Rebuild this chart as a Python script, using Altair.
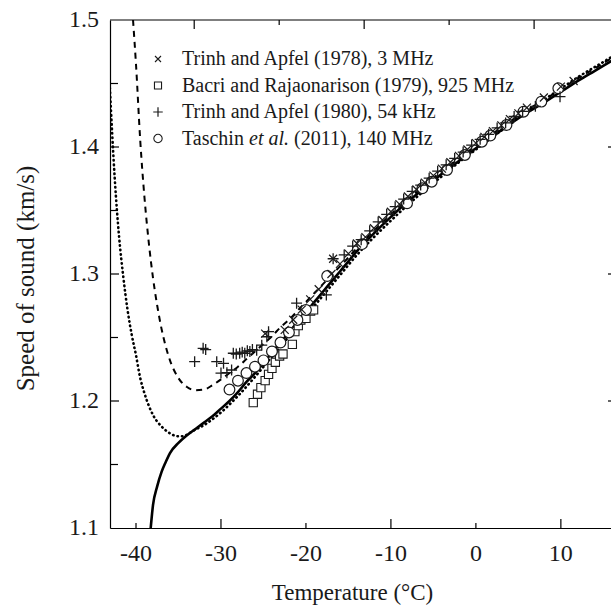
import altair as alt
import pandas as pd

# ---------------- data ----------------
solid_T = [-38.27, -38.0, -37.5, -37.0, -36.5, -36.0, -35.0, -34.0, -33.0, -32.0, -31.0, -30.0,
           -29.0, -28.0, -27.0, -26.0, -25.0, -24.0, -23.0, -22.0, -21.0, -20.0, -19.0, -18.0,
           -17.0, -16.0, -15.0, -14.0, -12.0, -10.0, -8.0, -6.0, -4.0, -2.0, 0.0, 2.0, 4.0,
           6.0, 8.0, 10.0, 12.0, 14.0, 16.0]
solid_v = [1.100, 1.118, 1.133, 1.144, 1.152, 1.159, 1.167, 1.173, 1.178, 1.183, 1.188, 1.194,
           1.200, 1.207, 1.215, 1.222, 1.230, 1.238, 1.246, 1.254, 1.262, 1.270, 1.278, 1.286,
           1.294, 1.302, 1.310, 1.318, 1.332, 1.345, 1.357, 1.368, 1.379, 1.389, 1.399, 1.4085,
           1.418, 1.427, 1.435, 1.4435, 1.452, 1.460, 1.468]

dot_T = [-43.1, -42.8, -42.5, -42.0, -41.5, -41.0, -40.5, -40.0, -39.5, -39.0, -38.0, -37.0,
         -36.0, -35.0, -34.5, -34.0, -33.3, -32.0, -30.0, -28.0, -26.0, -24.0, -22.0, -20.0,
         -18.0, -16.0, -14.0, -12.0, -10.0, -8.0, -6.0, -4.0, -2.0, 0.0, 2.0, 4.0, 6.0, 8.0,
         10.0, 12.0, 14.0, 16.0]
dot_v = [1.450, 1.410, 1.375, 1.330, 1.298, 1.272, 1.252, 1.236, 1.218, 1.206, 1.189, 1.180,
         1.1745, 1.1722, 1.1722, 1.1735, 1.1765, 1.181, 1.191, 1.204, 1.219, 1.235, 1.251,
         1.267, 1.283, 1.299, 1.315, 1.329, 1.342, 1.3545, 1.366, 1.377, 1.388, 1.398, 1.408,
         1.418, 1.428, 1.437, 1.446, 1.455, 1.463, 1.471]

dash_T = [-40.35, -40.0, -39.5, -39.0, -38.5, -38.0, -37.5, -37.0, -36.5, -36.0, -35.0, -34.0,
          -33.0, -32.0, -31.0, -30.0, -29.0, -28.0, -27.0, -26.0, -25.0, -24.0, -23.0, -22.0,
          -21.0, -20.0, -19.0, -18.0, -17.0, -16.0, -15.0, -14.0, -12.0, -10.0, -8.0, -6.0,
          -4.0, -2.0, 0.0, 2.0, 4.0, 6.0, 8.0, 10.0, 12.0, 14.0, 16.0]
dash_v = [1.500, 1.465, 1.405, 1.360, 1.325, 1.297, 1.275, 1.257, 1.243, 1.232, 1.218, 1.211,
          1.2085, 1.209, 1.2125, 1.217, 1.222, 1.227, 1.233, 1.239, 1.245, 1.251, 1.258, 1.264,
          1.271, 1.278, 1.285, 1.292, 1.299, 1.306, 1.313, 1.3205, 1.334, 1.347, 1.359, 1.370,
          1.381, 1.391, 1.401, 1.4105, 1.420, 1.429, 1.437, 1.4455, 1.454, 1.462, 1.470]

# Trinh and Apfel (1978), 3 MHz  (x)
x78_T = [-24.8, -22.5, -21.5, -20.5, -19.5, -18.5, -17.0, -16.8, -16.0, -15.0, -14.0, -13.0,
         -12.0, -11.0, -10.0, -9.0, -8.0, -7.0, -6.0, -5.0, -4.0, -3.0, -2.0, -1.0, 0.0, 1.0,
         2.0, 3.0, 4.0, 5.0, 6.0, 8.0, 10.0, 11.5]
x78_v = [1.253, 1.256, 1.264, 1.272, 1.280, 1.288, 1.300, 1.312, 1.308, 1.316, 1.324, 1.329,
         1.336, 1.3425, 1.349, 1.355, 1.361, 1.3665, 1.372, 1.3775, 1.383, 1.388, 1.393, 1.398,
         1.403, 1.408, 1.4125, 1.417, 1.422, 1.4265, 1.431, 1.439, 1.4475, 1.452]

# Bacri and Rajaonarison (1979), 925 MHz  (squares)
b79_T = [-26.2, -25.7, -25.3, -24.8, -24.4, -24.0, -23.6, -23.1, -22.7, -21.6, -21.3, -20.9,
         -20.6, -20.0, -19.45, -19.1]
b79_v = [1.1987, 1.2053, 1.2105, 1.216, 1.221, 1.2257, 1.2305, 1.2354, 1.237, 1.2446, 1.2546,
         1.2593, 1.2638, 1.265, 1.2709, 1.2717]

# Trinh and Apfel (1980), 54 kHz  (+)
p80_T = [-33.1, -32.1, -31.8, -30.5, -30.0, -29.7, -29.3, -28.75, -28.55, -28.2, -27.8, -27.5,
         -27.2, -26.9, -26.6, -26.3, -25.8, -25.2, -24.6, -24.4, -21.1, -17.6, -16.8, -15.5,
         -14.5, -13.5, -12.5, -11.5, -10.5, -9.5, -8.5, -7.5, -6.5, -5.5, -4.5, -3.5, -2.5,
         -1.5, -0.5, 0.5, 1.5, 2.5, 3.5, 4.5, 5.5, 7.0, 9.9]
p80_v = [1.231, 1.2415, 1.2405, 1.231, 1.222, 1.2297, 1.2223, 1.2244, 1.2376, 1.237, 1.2376,
         1.2385, 1.2376, 1.2395, 1.239, 1.2405, 1.240, 1.244, 1.2506, 1.2546, 1.277, 1.2835,
         1.312, 1.315, 1.322, 1.327, 1.334, 1.341, 1.347, 1.353, 1.359, 1.365, 1.370, 1.3755,
         1.381, 1.386, 1.391, 1.396, 1.4015, 1.406, 1.410, 1.415, 1.419, 1.424, 1.428, 1.432,
         1.4396]

# Taschin et al. (2011), 140 MHz  (circles)
t11_T = [-29.0, -28.0, -27.0, -26.0, -25.0, -24.0, -23.0, -22.0, -21.0, -20.0, -17.5, -13.4,
         -8.1, -6.3, -5.2, -3.4, -1.3, 0.7, 1.7, 3.6, 5.6, 7.7, 9.7]
t11_v = [1.209, 1.216, 1.222, 1.227, 1.232, 1.239, 1.246, 1.254, 1.2638, 1.2717, 1.2984, 1.3235,
         1.3557, 1.3675, 1.3727, 1.3819, 1.3937, 1.4042, 1.409, 1.4173, 1.4278, 1.4357, 1.4462]

x_major = [-40, -30, -20, -10, 0, 10]
x_tick_labels = ["-40", "-30", "-20", "-10", "0", "10"]
x_long = [-30, -10, 10]
x_short = [-40, -20, 0]
top_K_long = [240, 260, 280]
top_K_short = [250, 270]
y_labels = [1.1, 1.2, 1.3, 1.4, 1.5]
y_tick_labels = ["1.1", "1.2", "1.3", "1.4", "1.5"]
y_ticks_long = [1.2, 1.3, 1.4]
y_ticks_short = [1.15, 1.25, 1.35, 1.45]
right_ticks = [1.2, 1.3, 1.4]

legend_rows = ["Trinh and Apfel (1978), 3 MHz", "Bacri and Rajaonarison (1979), 925 MHz",
               "Trinh and Apfel (1980), 54 kHz"]

# ---------------- layout ----------------
W, H = 501, 508
FONT = "Liberation Serif"
INK = "#1a1a1a"

xs = alt.Scale(domain=[-43.06, 15.9], nice=False, zero=False)
ys = alt.Scale(domain=[1.1, 1.5], nice=False, zero=False)

x_axis = alt.Axis(values=x_major, title="Temperature (°C)", tickSize=0, labels=False,
                  domainColor="black", domainWidth=1.2, grid=False,
                  titleFont=FONT, titleFontSize=23, titleFontWeight="normal", titleColor=INK,
                  titleX=242, titleY=64, titleBaseline="middle")
y_axis = alt.Axis(values=y_labels, title="Speed of sound (km/s)", tickSize=0, labels=False,
                  domainColor="black", domainWidth=1.2, grid=False,
                  titleFont=FONT, titleFontSize=25, titleFontWeight="normal", titleColor=INK,
                  titleX=-85, titleY=258, titleBaseline="middle", titleAngle=270)


def X(field="T"):
    return alt.X(f"{field}:Q", scale=xs, axis=x_axis)


def Y(field="v"):
    return alt.Y(f"{field}:Q", scale=ys, axis=y_axis)


def curve(T, v, dash, width):
    df = pd.DataFrame({"T": T, "v": v, "i": range(len(T))})
    kw = dict(color="black", strokeWidth=width, clip=True, interpolate="monotone")
    if dash:
        kw["strokeDash"] = dash
        kw["strokeCap"] = "round" if dash[0] < 2 else "butt"
    return alt.Chart(df).mark_line(**kw).encode(x=X(), y=Y(), order="i:Q")


solid = curve(solid_T, solid_v, None, 2.6)
dotted = curve(dot_T, dot_v, [0.5, 4], 2.6)
dashed = curve(dash_T, dash_v, [6, 5], 2.0)

PLUS = "M-1,0H1M0,-1V1"
CROSS = "M-1,-1L1,1M1,-1L-1,1"


def points(T, v, shape, size, fill=None, sw=1.2):
    df = pd.DataFrame({"T": T, "v": v})
    kw = dict(shape=shape, size=size, stroke=INK, strokeWidth=sw, opacity=1, clip=True)
    if fill:
        kw.update(filled=True, fill=fill, fillOpacity=1)
    else:
        kw.update(filled=False)
    return alt.Chart(df).mark_point(**kw).encode(x=X(), y=Y())


circ = points(t11_T, t11_v, "circle", 115, fill="white", sw=1.2)
sq = points(b79_T, b79_v, "square", 68, fill="white", sw=1.1)
plus = points(p80_T, p80_v, PLUS, 120, sw=1.3)
cross = points(x78_T, x78_v, CROSS, 64, sw=1.2)

# ---------------- tick labels (serif text through the scales) ----------------
xlab_df = pd.DataFrame({"T": x_major, "lab": x_tick_labels})
xlabels = alt.Chart(xlab_df).mark_text(font=FONT, fontSize=24, color=INK, align="center",
                                       baseline="middle").encode(
    x=X(), y=alt.value(H + 26), text="lab:N")
ylab_df = pd.DataFrame({"v": y_labels, "lab": y_tick_labels})
ylabels = alt.Chart(ylab_df).mark_text(font=FONT, fontSize=24, color=INK, align="right",
                                       baseline="middle").encode(
    y=Y(), x=alt.value(-11), text="lab:N")

# ---------------- frame & inward ticks ----------------
one = pd.DataFrame({"a": [0]})
top_line = alt.Chart(one).mark_rule(color="black", strokeWidth=1.2).encode(
    x=alt.value(0), x2=alt.value(W), y=alt.value(0))


def xticks(vals, length, top=False):
    df = pd.DataFrame({"T": vals})
    y0, y1 = (0, length) if top else (H, H - length)
    return alt.Chart(df).mark_rule(color="black", strokeWidth=1.2).encode(
        x=X(), y=alt.value(y0), y2=alt.value(y1))


def yticks(vals, length, right=False):
    df = pd.DataFrame({"v": vals})
    x0, x1 = (W - length, W) if right else (0, length)
    return alt.Chart(df).mark_rule(color="black", strokeWidth=1.2).encode(
        y=Y(), x=alt.value(x0), x2=alt.value(x1))


topK = pd.DataFrame({"K": top_K_long + top_K_short,
                     "len": [9] * len(top_K_long) + [5] * len(top_K_short)})
topK["T"] = topK["K"] - 273.15
top_long = xticks(list(topK[topK.len == 9]["T"]), 9, top=True)
top_short = xticks(list(topK[topK.len == 5]["T"]), 5, top=True)

ticks = [xticks(x_long, 9), xticks(x_short, 5), top_long, top_short,
         yticks(y_ticks_long, 9), yticks(y_ticks_short, 8), yticks(right_ticks, 3, right=True)]

# ---------------- legend ----------------
LX, TX = 48, 72
ROWS = [39, 65.5, 92, 118.5]


def leg_symbol(row, shape, size, fill=None, sw=1.2):
    kw = dict(shape=shape, size=size, stroke=INK, strokeWidth=sw, opacity=1)
    if fill:
        kw.update(filled=True, fill=fill, fillOpacity=1)
    else:
        kw.update(filled=False)
    return alt.Chart(one).mark_point(**kw).encode(x=alt.value(LX), y=alt.value(ROWS[row]))


def leg_text(row, text, x, italic=False):
    df = pd.DataFrame({"t": [text]})
    return alt.Chart(df).mark_text(align="left", baseline="middle", font=FONT, fontSize=20,
                                   color=INK, fontStyle="italic" if italic else "normal").encode(
        x=alt.value(x), y=alt.value(ROWS[row]), text="t:N")


legend = [
    leg_symbol(0, CROSS, 36, sw=1.1), leg_text(0, legend_rows[0], TX),
    leg_symbol(1, "square", 50, fill="white", sw=1.1), leg_text(1, legend_rows[1], TX),
    leg_symbol(2, PLUS, 90, sw=1.2), leg_text(2, legend_rows[2], TX),
    leg_symbol(3, "circle", 70, fill="white", sw=1.1),
    leg_text(3, "Taschin", TX), leg_text(3, "et al.", TX + 67, italic=True),
    leg_text(3, "(2011), 140 MHz", TX + 112),
]

chart = alt.layer(dotted, dashed, solid, sq, circ, plus, cross, top_line, *ticks,
                  xlabels, ylabels, *legend).properties(
    width=W, height=H,
    autosize=alt.AutoSizeParams(type="none"),
    padding={"left": 110, "top": 20, "right": 0, "bottom": 83},
).configure(background="white").configure_view(stroke=None)

chart.save("out.html", embed_options={"renderer": "svg", "actions": False})
